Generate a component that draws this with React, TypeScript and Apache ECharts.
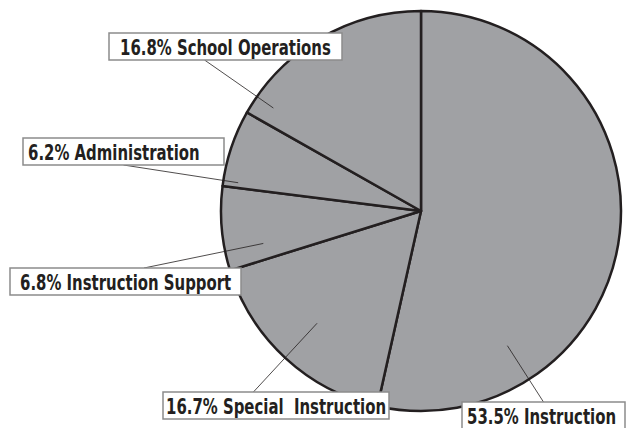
import React, { useEffect, useRef } from "react";
import * as echarts from "echarts";

// ---- data ----
const categories = [
  "Instruction",
  "Special  Instruction",
  "Instruction Support",
  "Administration",
  "School Operations",
];
const shares = [53.5, 16.7, 6.8, 6.2, 16.8];

// ---- label layout (page px) ----
const boxLeft = [462, 163, 10, 23, 109];
const boxTop = [402, 392, 268, 138, 33];
const boxWidth = [163, 226, 231, 201, 233];
const textInset = [5, 3, 10, 5, 11];
const anchorFrac = [0.5, 0.4, 0.58, 0.5, 0.41];
const leaderRadius = [160, 153, 161, 185, 180];

const CX = 421;
const CY = 211;
const R = 200;
const BOX_H = 27;
const TEXT_SCALE_X = 0.79;
const FONT = "bold 21px 'DejaVu Sans Condensed', 'DejaVu Sans', sans-serif";

export default function App() {
  const ref = useRef<HTMLDivElement>(null);

  useEffect(() => {
    if (!ref.current) return;
    const chart = echarts.init(ref.current, undefined, { renderer: "svg" });

    const leaders: any[] = [];
    const boxes: any[] = [];
    categories.forEach((name, i) => {
      const ax = boxLeft[i] + anchorFrac[i] * boxWidth[i];
      const above = boxTop[i] + BOX_H / 2 < CY;
      const ay = above ? boxTop[i] + BOX_H : boxTop[i];
      const dx = ax - CX;
      const dy = ay - CY;
      const len = Math.hypot(dx, dy);
      const ex = CX + (dx / len) * leaderRadius[i];
      const ey = CY + (dy / len) * leaderRadius[i];
      leaders.push({
        type: "line",
        z: 10,
        silent: true,
        shape: { x1: ax, y1: ay, x2: ex, y2: ey },
        style: { stroke: "#231f20", lineWidth: 0.8 },
      });
      boxes.push({
        type: "group",
        x: boxLeft[i],
        y: boxTop[i],
        z: 11,
        silent: true,
        children: [
          {
            type: "rect",
            z: 11,
            shape: { x: 0, y: 0, width: boxWidth[i], height: BOX_H },
            style: { fill: "#ffffff", stroke: "#8c8c8c", lineWidth: 1.5 },
          },
          {
            type: "text",
            z: 12,
            x: textInset[i],
            y: BOX_H / 2 + 0.5,
            scaleX: TEXT_SCALE_X,
            style: {
              text: `${shares[i].toFixed(1)}% ${name}`,
              font: FONT,
              fill: "#231f20",
              textAlign: "left",
              textVerticalAlign: "middle",
              verticalAlign: "middle",
            },
          },
        ],
      });
    });

    chart.setOption({
      animation: false,
      backgroundColor: "#ffffff",
      series: [
        {
          type: "pie",
          center: [CX, CY],
          radius: R,
          startAngle: 90,
          clockwise: true,
          silent: true,
          emphasis: { disabled: true },
          label: { show: false },
          labelLine: { show: false },
          itemStyle: {
            color: "#a0a1a4",
            borderColor: "#231f20",
            borderWidth: 2.5,
          },
          data: categories.map((name, i) => ({ name, value: shares[i] })),
        },
      ],
      graphic: [...leaders, ...boxes],
    });
    return () => chart.dispose();
  }, []);

  return (
    <div
      ref={ref}
      style={{ position: "fixed", left: 0, top: 0, width: 628, height: 428 }}
    />
  );
}
